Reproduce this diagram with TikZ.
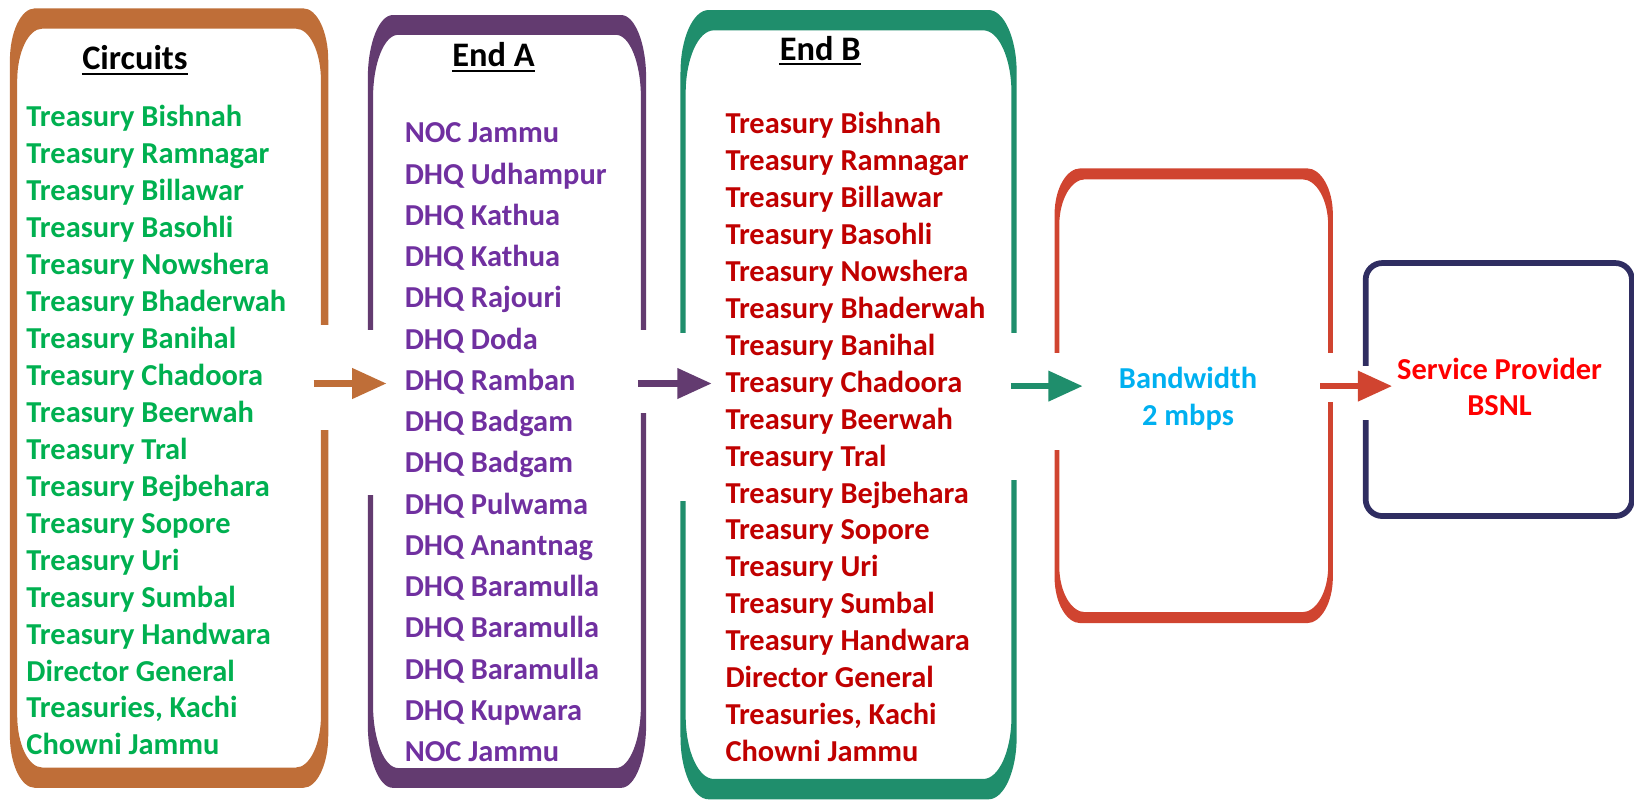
\documentclass[tikz,border=0pt]{standalone}
\usepackage{fontspec}
\setmainfont{Carlito}
\usetikzlibrary{arrows.meta}

\definecolor{circline}{RGB}{191,110,56}
\definecolor{endaline}{RGB}{99,59,112}
\definecolor{endbline}{RGB}{31,142,108}
\definecolor{bwline}{RGB}{208,68,48}
\definecolor{spline}{RGB}{47,45,97}
\definecolor{circtext}{RGB}{0,176,80}
\definecolor{endatext}{RGB}{112,48,160}
\definecolor{endbtext}{RGB}{192,0,0}
\definecolor{bwtext}{RGB}{0,176,240}
\definecolor{sptext}{RGB}{255,0,0}

% rounded outline: left, top, right, bottom, rx, ry
\newcommand{\canpath}[6]{%
  ({#1},{#2+#6}) .. controls ({#1},{#2+0.45*#6}) and ({#1+0.45*#5},{#2}) .. ({#1+#5},{#2})
  -- ({#3-#5},{#2}) .. controls ({#3-0.45*#5},{#2}) and ({#3},{#2+0.45*#6}) .. ({#3},{#2+#6})
  -- ({#3},{#4-#6}) .. controls ({#3},{#4-0.45*#6}) and ({#3-0.45*#5},{#4}) .. ({#3-#5},{#4})
  -- ({#1+#5},{#4}) .. controls ({#1+0.45*#5},{#4}) and ({#1},{#4-0.45*#6}) .. ({#1},{#4-#6}) -- cycle}
% box frame: left, top, right, bottom, side width, band width, rx, ry, colour
\newcommand{\canbox}[9]{%
  \fill[#9, even odd rule] \canpath{#1}{#2}{#3}{#4}{#7}{#8}
    \canpath{#1+#5}{#2+#6}{#3-#5}{#4-#6}{#7}{#8};}

\newcommand{\treasurylist}{Treasury Bishnah, Treasury Ramnagar, Treasury Billawar,
  Treasury Basohli, Treasury Nowshera, Treasury Bhaderwah, Treasury Banihal,
  Treasury Chadoora, Treasury Beerwah, Treasury Tral, Treasury Bejbehara,
  Treasury Sopore, Treasury Uri, Treasury Sumbal, Treasury Handwara,
  Director General, {Treasuries, Kachi}, Chowni Jammu}
\newcommand{\dhqlist}{NOC Jammu, DHQ Udhampur, DHQ Kathua, DHQ Kathua, DHQ Rajouri,
  DHQ Doda, DHQ Ramban, DHQ Badgam, DHQ Badgam, DHQ Pulwama, DHQ Anantnag,
  DHQ Baramulla, DHQ Baramulla, DHQ Baramulla, DHQ Kupwara, NOC Jammu}

\tikzset{
  listitem/.style={anchor=base west, inner sep=0pt, font=\fontsize{14.6}{17}\selectfont\bfseries},
  midtext/.style={anchor=base, inner sep=0pt, font=\fontsize{14.6}{17}\selectfont\bfseries},
  heading/.style={anchor=base, inner sep=0pt, font=\fontsize{16.5}{20}\selectfont\bfseries},
  flow/.style={line width=3.1pt, -{Triangle[length=16.5pt,width=14pt]}},
  gap/.style={fill=white}
}

\begin{document}
\begin{tikzpicture}[x=0.5pt, y=-0.5pt]
  \useasboundingbox (0,0) rectangle (1568,768);

  % Frames
  \canbox{9.5}{8}{315}{756}{7}{19.5}{24}{50}{circline}
  \canbox{353}{14.4}{620}{756}{5}{19}{24}{60}{endaline}
  \canbox{653}{9.6}{975.6}{767}{5}{19.5}{27}{60}{endbline}
  \canbox{1012}{161.5}{1279}{598}{4.5}{10.5}{25}{44}{bwline}
  \draw[spline, line width=2.75pt, rounded corners=8pt] (1310.5,252.4) rectangle (1566,495.2);

  % Openings where the arrows pass
  \fill[gap] (304,312) rectangle (318,413);
  \fill[gap] (350,317) rectangle (362,475);
  \fill[gap] (611,317) rectangle (623,396);
  \fill[gap] (650,320) rectangle (662,481);
  \fill[gap] (966,320) rectangle (979,461);
  \fill[gap] (1009,339) rectangle (1020,432);
  \fill[gap] (1271,339) rectangle (1282,386);
  \fill[gap] (1304,351) rectangle (1317,403);

  % Headings
  \node[heading] (circtitle) at (129.5,67) {Circuits};
  \node[heading] (endatitle) at (473.5,64) {End A};
  \node[heading] (endbtitle) at (787,57.6) {End B};
  \foreach \h in {circtitle, endatitle, endbtitle}
    \draw[line width=1pt] ([yshift=-2pt]\h.base west) -- ([yshift=-2pt]\h.base east);

  % Lists
  \foreach \t [count=\i] in \treasurylist
    \node[listitem, text=circtext] (circ\i) at (25,{121.6+35.46*(\i-1)}) {\t};
  \foreach \t [count=\i] in \dhqlist
    \node[listitem, text=endatext] (enda\i) at (388,{137+39.6*(\i-1)}) {\t};
  \foreach \t [count=\i] in \treasurylist
    \node[listitem, text=endbtext] (endb\i) at (695.8,{128+35.47*(\i-1)}) {\t};

  % Bandwidth and provider
  \node[midtext, text=bwtext] (bw1) at (1140,372.6) {Bandwidth};
  \node[midtext, text=bwtext] (bw2) at (1140,408) {2 mbps};
  \node[midtext, text=sptext] (sp1) at (1439,364) {Service Provider};
  \node[midtext, text=sptext] (sp2) at (1439,399) {BSNL};

  % Arrows
  \coordinate (a1s) at (301,368);
  \coordinate (a1e) at (371,368);
  \coordinate (a2s) at (612,368);
  \coordinate (a2e) at (683,368);
  \coordinate (a3s) at (970,370.5);
  \coordinate (a3e) at (1039,370.5);
  \coordinate (a4s) at (1267,370.5);
  \coordinate (a4e) at (1336,370.5);
  \draw[flow, circline] (a1s) -- (a1e);
  \draw[flow, endaline] (a2s) -- (a2e);
  \draw[flow, endbline] (a3s) -- (a3e);
  \draw[flow, bwline] (a4s) -- (a4e);
\end{tikzpicture}
\end{document}
